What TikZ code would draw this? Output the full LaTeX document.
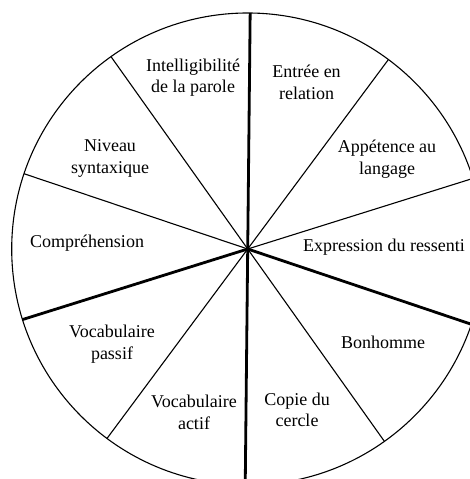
\documentclass[tikz,border=0pt]{standalone}
\usepackage{fontspec}
\setmainfont{Liberation Serif}
\begin{document}
\begin{tikzpicture}[x=1pt,y=1pt,
  thinspoke/.style={line width=1.1pt, black},
  thickspoke/.style={line width=2.8pt, black},
  rim/.style={line width=1.1pt, black},
  lbl/.style={align=center, font=\fontsize{18}{21.5}\selectfont, inner sep=0pt, text=black}]
\useasboundingbox (0,0) rectangle (470,479);
\fill[white] (0,0) rectangle (470,479);
\clip (0,0) rectangle (470,479);
\coordinate (c) at (247.7,230);
\foreach \a [count=\i] in {90,54,18,-18,-54,-90,-126,-162,162,126}
  \path (c) ++(\a-0.6:236) coordinate (p\i);
\draw[rim] (c) circle[radius=236];
\foreach \i in {2,3,5,7,9,10}
  \draw[thinspoke] (c) -- (p\i);
\foreach \i in {1,4,6,8}
  \draw[thickspoke] (c) -- (p\i);
\node[lbl] (intel) at (193,401.5) {Intelligibilité\\de la parole};
\node[lbl] (entree) at (306.5,396.5) {Entrée en\\relation};
\node[lbl] (appet) at (387,320) {Appétence au\\langage};
\node[lbl] (expr) at (384,232) {Expression du ressenti};
\node[lbl] (bonh) at (383,137) {Bonhomme};
\node[lbl] (copie) at (297,69) {Copie du\\cercle};
\node[lbl] (vactif) at (194,66.5) {Vocabulaire\\actif};
\node[lbl] (vpassif) at (112,135) {Vocabulaire\\passif};
\node[lbl] (compr) at (87,236) {Compréhension};
\node[lbl] (niveau) at (110,320.5) {Niveau\\syntaxique};
\end{tikzpicture}
\end{document}
